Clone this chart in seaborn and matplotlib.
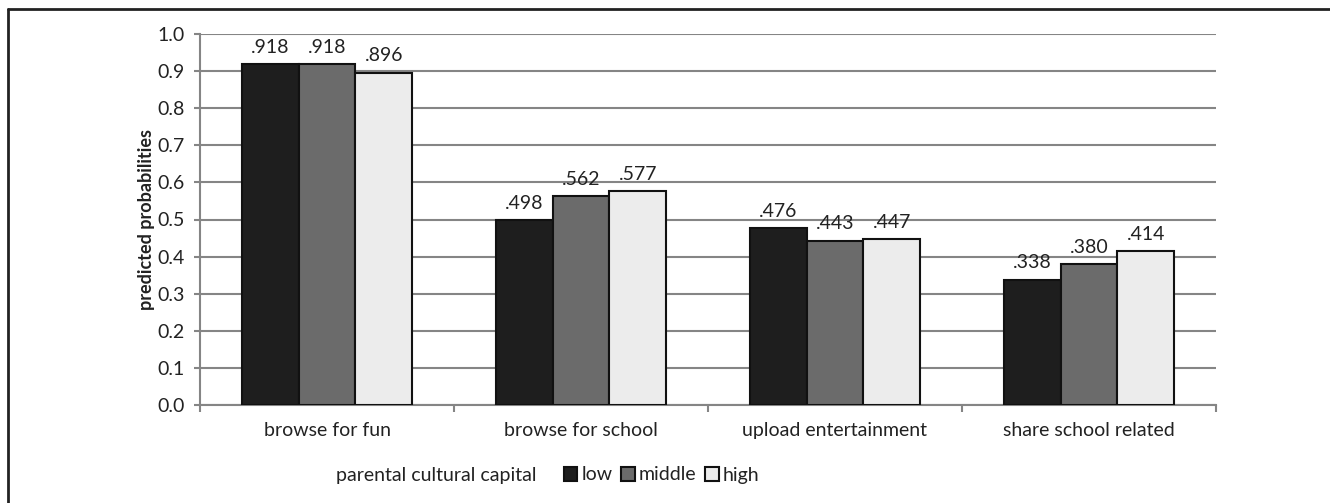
import matplotlib
matplotlib.use("Agg")
import matplotlib.pyplot as plt
from matplotlib.lines import Line2D
from matplotlib.patches import Patch
from matplotlib.ticker import FixedLocator
import seaborn as sns
import pandas as pd

activities = ["browse for fun", "browse for school", "upload entertainment", "share school related"]
capital_levels = ["low", "middle", "high"]
low_vals = [0.918, 0.498, 0.476, 0.338]
middle_vals = [0.918, 0.562, 0.443, 0.380]
high_vals = [0.896, 0.577, 0.447, 0.414]
y_ticks = [0.0, 0.1, 0.2, 0.3, 0.4, 0.5, 0.6, 0.7, 0.8, 0.9, 1.0]

bar_colors = ["#1e1e1e", "#6b6b6b", "#ececec"]

df = pd.DataFrame({
    "activity": activities * 3,
    "capital": ["low"] * 4 + ["middle"] * 4 + ["high"] * 4,
    "prob": low_vals + middle_vals + high_vals,
})

sns.set_theme(style="white")
plt.rcParams["font.family"] = ["Lato", "DejaVu Sans"]

fig = plt.figure(figsize=(13.3, 5.03), dpi=100)
ax = fig.add_axes([200 / 1330, 1 - 405 / 503, 1016 / 1330, 371 / 503])

sns.barplot(data=df, x="activity", y="prob", hue="capital",
            order=activities, hue_order=capital_levels,
            palette=bar_colors, width=0.67, edgecolor="#111111",
            linewidth=1.5, saturation=1, legend=False, ax=ax, zorder=3)

for cont in ax.containers:
    ax.bar_label(cont, fmt=lambda v: f"{v:.3f}".lstrip("0"), padding=6,
                 fontsize=14, color="#222222")

ax.set_ylim(0, 1.0)
ax.set_xlim(-0.5, 3.5)
ax.yaxis.set_major_locator(FixedLocator(y_ticks))
ax.set_yticklabels([f"{t:.1f}" for t in y_ticks])
ax.yaxis.grid(True, color="#858585", linewidth=1.5, zorder=0)
ax.set_axisbelow(True)

for s in ["top", "right"]:
    ax.spines[s].set_visible(False)
for s in ["left", "bottom"]:
    ax.spines[s].set_color("#858585")
    ax.spines[s].set_linewidth(1.5)

ax.tick_params(axis="x", which="major", length=0, pad=12, labelsize=14, labelcolor="#222222")
ax.xaxis.set_minor_locator(FixedLocator([-0.5, 0.5, 1.5, 2.5, 3.5]))
ax.tick_params(axis="x", which="minor", bottom=True, length=5, width=1.5, color="#858585", direction="out")
ax.tick_params(axis="y", left=True, length=4, width=1.5, color="#858585", direction="out",
               labelsize=14, labelcolor="#222222", pad=7)

ax.set_xlabel("")
ax.set_ylabel("predicted probabilities", fontsize=13, fontweight="bold", color="#222222", labelpad=2)

# legend row under the chart
fig.text(336 / 1330, 1 - 475 / 503, "parental cultural capital", fontsize=14,
         color="#222222", va="center", ha="left")
handles = [Patch(facecolor=c, edgecolor="#111111", linewidth=1.5) for c in bar_colors]
fig.legend(handles, capital_levels, loc="center left",
           bbox_to_anchor=(556 / 1330, 1 - 475 / 503), ncol=3, frameon=False,
           handlelength=0.7, handleheight=0.7, handletextpad=0.2,
           columnspacing=0.45, fontsize=14, labelcolor="#222222", borderaxespad=0)

# frame lines along the top and left edges
fx = 8 / 1330
fy = 1 - 9 / 503
fig.add_artist(Line2D([fx, 1], [fy, fy], transform=fig.transFigure, color="#222222", lw=2))
fig.add_artist(Line2D([fx, fx], [0, fy], transform=fig.transFigure, color="#222222", lw=2))

fig.savefig("out.png", dpi=100)
